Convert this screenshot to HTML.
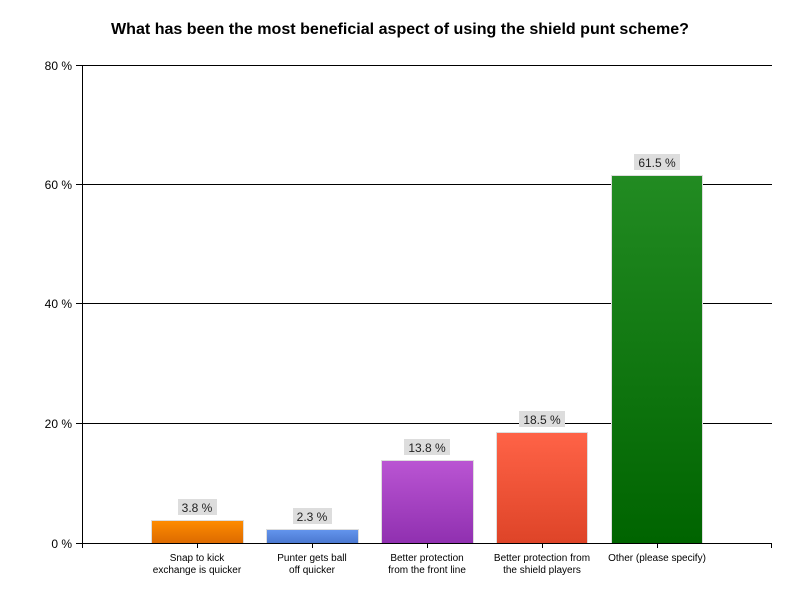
<!DOCTYPE html>
<html><head><meta charset="utf-8"><style>
body{margin:0;background:#fff;}
svg text{font-family:"Liberation Sans",sans-serif;}
</style></head><body>
<svg width="800" height="600" xmlns="http://www.w3.org/2000/svg">
<defs>
<linearGradient id="g1" x1="0" y1="0" x2="0" y2="1"><stop offset="0" stop-color="#ff8c00"/><stop offset="1" stop-color="#dc6a00"/></linearGradient>
<linearGradient id="g2" x1="0" y1="0" x2="0" y2="1"><stop offset="0" stop-color="#6495ed"/><stop offset="1" stop-color="#4a78d0"/></linearGradient>
<linearGradient id="g3" x1="0" y1="0" x2="0" y2="1"><stop offset="0" stop-color="#ba55d3"/><stop offset="1" stop-color="#9030b0"/></linearGradient>
<linearGradient id="g4" x1="0" y1="0" x2="0" y2="1"><stop offset="0" stop-color="#ff6347"/><stop offset="1" stop-color="#de4428"/></linearGradient>
<linearGradient id="g5" x1="0" y1="0" x2="0" y2="1"><stop offset="0" stop-color="#228b22"/><stop offset="1" stop-color="#006400"/></linearGradient>
</defs>
<text x="400" y="34" text-anchor="middle" font-size="16" font-weight="bold" textLength="578" lengthAdjust="spacingAndGlyphs">What has been the most beneficial aspect of using the shield punt scheme?</text>
<g stroke="#000" stroke-width="1">
<line x1="82" y1="65.5" x2="772" y2="65.5"/>
<line x1="82" y1="184.5" x2="772" y2="184.5"/>
<line x1="82" y1="303.5" x2="772" y2="303.5"/>
<line x1="82" y1="423.5" x2="772" y2="423.5"/>
<line x1="82.5" y1="65" x2="82.5" y2="548"/>
<line x1="76" y1="65.5" x2="82" y2="65.5"/>
<line x1="76" y1="184.5" x2="82" y2="184.5"/>
<line x1="76" y1="303.5" x2="82" y2="303.5"/>
<line x1="76" y1="423.5" x2="82" y2="423.5"/>
<line x1="76" y1="543.5" x2="82" y2="543.5"/>
</g>
<g font-size="12" text-anchor="end">
<text x="72" y="70">80 %</text><text x="72" y="189">60 %</text><text x="72" y="308">40 %</text><text x="72" y="428">20 %</text><text x="72" y="548">0 %</text>
</g>
<g stroke="#ddd" stroke-width="1">
<rect x="151.5" y="520.5" width="92" height="23" fill="url(#g1)"/>
<rect x="266.5" y="529.5" width="92" height="14" fill="url(#g2)"/>
<rect x="381.5" y="460.5" width="92" height="83" fill="url(#g3)"/>
<rect x="496.5" y="432.5" width="91" height="111" fill="url(#g4)"/>
<rect x="611.5" y="175.5" width="91" height="368" fill="url(#g5)"/>
</g>
<g stroke="#000">
<line x1="82" y1="543.5" x2="772" y2="543.5"/>
<line x1="197.5" y1="543" x2="197.5" y2="548"/><line x1="312.5" y1="543" x2="312.5" y2="548"/><line x1="427.5" y1="543" x2="427.5" y2="548"/><line x1="542.5" y1="543" x2="542.5" y2="548"/><line x1="657.5" y1="543" x2="657.5" y2="548"/><line x1="771.5" y1="543" x2="771.5" y2="548"/>
</g>
<g fill="#ddd">
<rect x="178" y="499" width="39" height="16"/><rect x="293" y="508" width="39" height="16"/><rect x="404" y="439" width="46" height="16"/><rect x="519" y="411" width="46" height="16"/><rect x="634" y="154" width="46" height="16"/>
</g>
<g font-size="12" text-anchor="middle" fill="#222">
<text x="197" y="512">3.8 %</text><text x="312" y="521">2.3 %</text><text x="427" y="452">13.8 %</text><text x="542" y="424">18.5 %</text><text x="657" y="167">61.5 %</text>
</g>
<g font-size="10" text-anchor="middle">
<text x="197" y="561">Snap to kick</text><text x="197" y="573">exchange is quicker</text>
<text x="312" y="561">Punter gets ball</text><text x="312" y="573">off quicker</text>
<text x="427" y="561">Better protection</text><text x="427" y="573">from the front line</text>
<text x="542" y="561">Better protection from</text><text x="542" y="573">the shield players</text>
<text x="657" y="561">Other (please specify)</text>
</g>
</svg>
</body></html>
